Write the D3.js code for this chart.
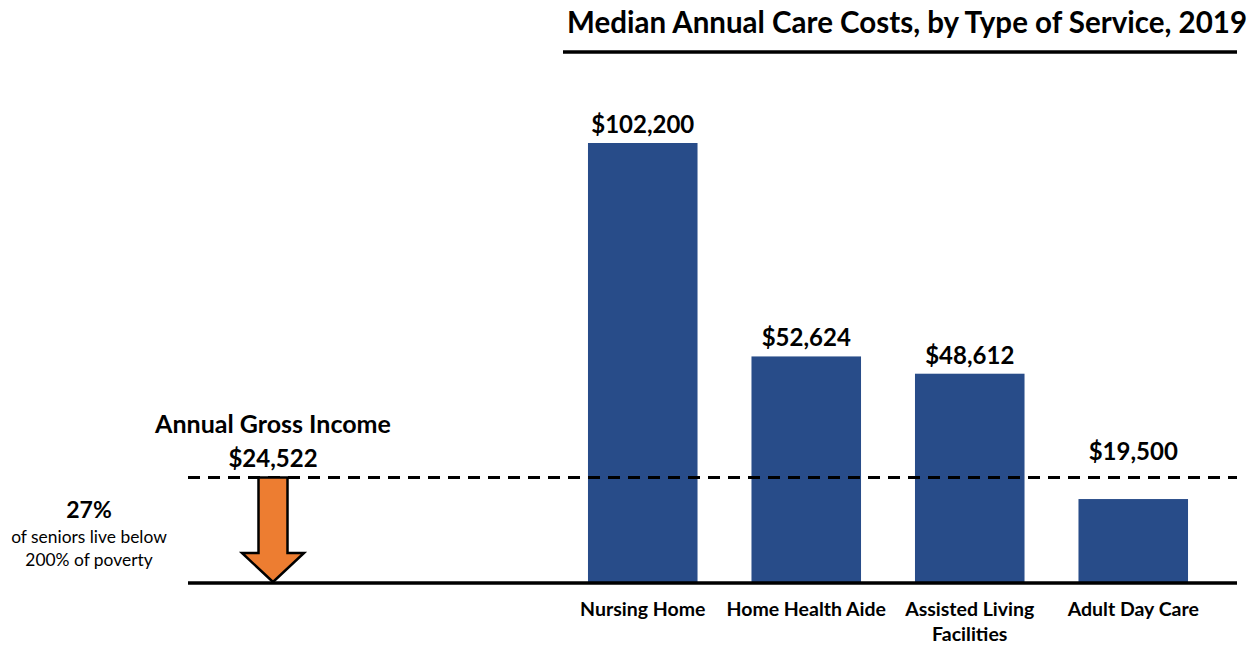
<!DOCTYPE html>
<html>
<head>
<meta charset="utf-8">
<script src="https://cdn.jsdelivr.net/npm/d3@7"></script>
<style>
  html, body { margin: 0; padding: 0; background: #fff; }
  svg { display: block; font-family: Lato, "Open Sans", sans-serif; }
</style>
</head>
<body>
<svg id="chart" width="1260" height="645"></svg>
<script>
// Median annual care costs by service type, 2019
const categories = ["Nursing Home", "Home Health Aide", "Assisted Living Facilities", "Adult Day Care"];
const categoryLines = [["Nursing Home"], ["Home Health Aide"], ["Assisted Living", "Facilities"], ["Adult Day Care"]];
const costs = [102200, 52624, 48612, 19500];
const costLabels = ["$102,200", "$52,624", "$48,612", "$19,500"];
const incomeValue = 24522;
const incomeLabel = "$24,522";
const title = "Median Annual Care Costs, by Type of Service, 2019";

const svg = d3.select("#chart");
const baseY = 583;
const barColor = "#284C89";

const x = d3.scaleBand().domain(categories).range([561, 1215]).paddingInner(0.33).paddingOuter(0.165);
const y = d3.scaleLinear().domain([0, 102200]).range([baseY, 143]);

// Title with rule underneath
svg.append("text").attr("x", 1247).attr("y", 33).attr("text-anchor", "end")
  .attr("font-weight", 700).attr("font-size", 29.5).attr("fill", "#000").text(title);
svg.append("line").attr("x1", 563).attr("x2", 1237).attr("y1", 52).attr("y2", 52)
  .attr("stroke", "#000").attr("stroke-width", 3.5);

// Bars
svg.selectAll("rect.bar").data(costs).join("rect").attr("class", "bar")
  .attr("x", (d, i) => x(categories[i]))
  .attr("width", x.bandwidth())
  .attr("y", d => y(d))
  .attr("height", d => baseY - y(d))
  .attr("fill", barColor);

// Value labels (the smallest sits above the income line)
svg.selectAll("text.val").data(costs).join("text").attr("class", "val")
  .attr("x", (d, i) => x(categories[i]) + x.bandwidth() / 2)
  .attr("y", d => Math.min(y(d), y(incomeValue)) - 10 - (d < incomeValue ? 7 : 0))
  .attr("text-anchor", "middle").attr("font-weight", 700).attr("font-size", 24)
  .attr("fill", "#000")
  .text((d, i) => costLabels[i]);

// Category labels
categories.forEach((c, i) => {
  const t = svg.append("text")
    .attr("x", x(c) + x.bandwidth() / 2).attr("y", 616)
    .attr("text-anchor", "middle").attr("font-weight", 700).attr("font-size", 19.5).attr("fill", "#000");
  categoryLines[i].forEach((ln, j) => {
    t.append("tspan").attr("x", x(c) + x.bandwidth() / 2).attr("dy", j === 0 ? 0 : 25).text(ln);
  });
});

// Income reference line
svg.append("line").attr("x1", 188).attr("x2", 1237)
  .attr("y1", y(incomeValue)).attr("y2", y(incomeValue))
  .attr("stroke", "#000").attr("stroke-width", 3).attr("stroke-dasharray", "12,8");

// Baseline
svg.append("line").attr("x1", 188).attr("x2", 1237).attr("y1", baseY).attr("y2", baseY)
  .attr("stroke", "#000").attr("stroke-width", 3.5);

// Downward arrow from income line to baseline
const ax = 273, arrowTop = y(incomeValue), arrowTip = baseY - 1;
const shaftHalf = 14.5, headHalf = 31, headTop = 553;
const arrow = d3.path();
arrow.moveTo(ax - shaftHalf, arrowTop);
arrow.lineTo(ax + shaftHalf, arrowTop);
arrow.lineTo(ax + shaftHalf, headTop);
arrow.lineTo(ax + headHalf, headTop);
arrow.lineTo(ax, arrowTip);
arrow.lineTo(ax - headHalf, headTop);
arrow.lineTo(ax - shaftHalf, headTop);
arrow.closePath();
svg.append("path").attr("d", arrow.toString()).attr("fill", "#ED7D31")
  .attr("stroke", "#000").attr("stroke-width", 2.5).attr("stroke-linejoin", "miter");

// Income annotation
svg.append("text").attr("x", ax).attr("y", 433).attr("text-anchor", "middle")
  .attr("font-weight", 700).attr("font-size", 25).text("Annual Gross Income");
svg.append("text").attr("x", ax).attr("y", 467).attr("text-anchor", "middle")
  .attr("font-weight", 700).attr("font-size", 24).text(incomeLabel);

// Poverty note
svg.append("text").attr("x", 89).attr("y", 518).attr("text-anchor", "middle")
  .attr("font-weight", 700).attr("font-size", 23).text("27%");
svg.append("text").attr("x", 89).attr("y", 543).attr("text-anchor", "middle")
  .attr("font-size", 17.4).text("of seniors live below");
svg.append("text").attr("x", 89).attr("y", 566).attr("text-anchor", "middle")
  .attr("font-size", 17.4).text("200% of poverty");
</script>
</body>
</html>
